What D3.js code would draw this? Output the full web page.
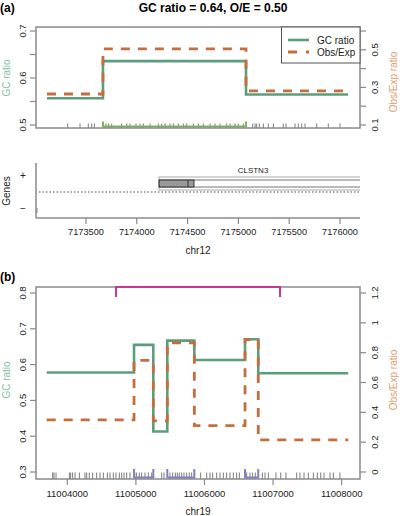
<!DOCTYPE html>
<html><head><meta charset="utf-8">
<script src="https://cdn.jsdelivr.net/npm/d3@7"></script>
<style>body{margin:0;background:#fff}svg{display:block;font-family:"Liberation Sans",Arial,sans-serif}</style>
</head><body>
<svg id="c" width="400" height="516"></svg>
<script>
// ---------- Panel (a) data: chr12 ----------
const aBreaks = [7173116, 7173667, 7175075, 7176079];
const aGC = [0.557, 0.636, 0.565];
const aOE = [0.265, 0.505, 0.282];
const aGCTicks = [0.5, 0.55, 0.6, 0.65, 0.7];
const aGCLabels = [0.5, 0.6, 0.7];
const aOETicks = [0.1, 0.2, 0.3, 0.4, 0.5, 0.6];
const aOELabels = [0.1, 0.3, 0.5];
const aXTicks = [7173500, 7174000, 7174500, 7175000, 7175500, 7176000];
const aIsland = [7173667, 7175075];
const aCpG = [7173320, 7173441, 7173523, 7173556, 7173582, 7173697, 7173723, 7173753, 7173851, 7173901,
  7173933, 7173992, 7174032, 7174064, 7174130, 7174212, 7174245, 7174278, 7174327, 7174360, 7174409,
  7174458, 7174491, 7174557, 7174606, 7174655, 7174721, 7174770, 7174819, 7174885, 7174918, 7174967,
  7175000, 7175049, 7175141, 7175164, 7175180, 7175206, 7175246, 7175295, 7175344, 7175442, 7175469,
  7175557, 7175590, 7175623, 7175656, 7175771, 7175885, 7176000];
const geneName = "CLSTN3";
const geneStart = 7174220, geneEnd = 7190000, exonEnd = 7174563, cdsStart = 7174504;

// ---------- Panel (b) data: chr19 ----------
const bBreaks = [11003700, 11004973, 11005254, 11005458, 11005852, 11006591, 11006784, 11008096];
const bGC = [0.578, 0.655, 0.413, 0.667, 0.613, 0.671, 0.576];
const bOE = [0.35, 0.748, 0.343, 0.865, 0.311, 0.887, 0.215];
const bGCTicks = [0.3, 0.4, 0.5, 0.6, 0.7, 0.8];
const bOETicks = [0, 0.2, 0.4, 0.6, 0.8, 1, 1.2];
const bXTicks = [11004000, 11005000, 11006000, 11007000, 11008000];
const bIslands = [[11004973, 11005254], [11005458, 11005852], [11006591, 11006784]];
const bRegion = [11004710, 11007101];
const bCpG = [11003787, 11003806, 11003836, 11004030, 11004049, 11004078, 11004113, 11004176, 11004258,
  11004283, 11004321, 11004370, 11004428, 11004477, 11004526, 11004584, 11004623, 11004671, 11004710,
  11004759, 11004793, 11004827, 11004866, 11004914, 11004985, 11005011, 11005050, 11005084, 11005133,
  11005181, 11005230, 11005376, 11005410, 11005497, 11005536, 11005575, 11005604, 11005633, 11005667,
  11005701, 11005740, 11005779, 11005813, 11005944, 11006032, 11006080, 11006119, 11006178, 11006226,
  11006275, 11006323, 11006372, 11006420, 11006469, 11006508, 11006615, 11006663, 11006702, 11006741,
  11006843, 11006882, 11006931, 11007042, 11007111, 11007188, 11007344, 11007392, 11007451, 11007514,
  11007587, 11007645, 11007694, 11007742, 11007830, 11007878, 11007975];

// ---------- styling ----------
const GREEN = "#5b9e7b", ORANGE = "#c56d3c", GREEN_T = "#80c09c", ORANGE_T = "#e39c6c";
const FRAME = "#8a8a8a", TXT = "#222";
const svg = d3.select("#c");
const FS = 9.5;

function stepPts(br, vals) {
  const p = vals.map((v, i) => [br[i], v]);
  p.push([br[br.length - 1], vals[vals.length - 1]]);
  return p;
}
function rotLabel(g, x, y, text, opts = {}) {
  g.append("text").attr("transform", `translate(${x},${y}) rotate(-90)`)
    .attr("text-anchor", "middle").attr("dominant-baseline", "central")
    .attr("font-size", opts.fs || FS).attr("fill", opts.fill || TXT).text(text);
}
function yAxis(g, scale, ticks, labels, x, side, fmt) {
  const dir = side === "left" ? -1 : 1;
  ticks.forEach(t => {
    g.append("line").attr("x1", x).attr("x2", x + dir * 6).attr("y1", scale(t)).attr("y2", scale(t))
      .attr("stroke", FRAME).attr("stroke-width", 1.2);
  });
  labels.forEach(t => rotLabel(g, x + dir * 14, scale(t), fmt(t)));
}
function frame(g, x0, y0, x1, y1) {
  g.append("rect").attr("x", x0).attr("y", y0).attr("width", x1 - x0).attr("height", y1 - y0)
    .attr("fill", "none").attr("stroke", FRAME).attr("stroke-width", 1.5);
}

// ================= Panel (a) =================
const L = 36, R = 360;
const xA = d3.scaleLinear().domain([7173008, 7176197]).range([L, R]);
const yGCa = d3.scaleLinear().domain([0.5, 0.7]).range([125, 31]);
const yOEa = d3.scaleLinear().domain([0.1, 0.6]).range([125, 31]);
const ga = svg.append("g");
ga.append("text").attr("x", 0).attr("y", 12).attr("font-weight", "bold").attr("font-size", 12).text("(a)");
ga.append("text").attr("x", 213).attr("y", 12).attr("text-anchor", "middle").attr("font-weight", "bold")
  .attr("font-size", 12).text("GC ratio = 0.64, O/E = 0.50");

// rug
ga.selectAll(".rugA").data(aCpG).join("line")
  .attr("x1", d => xA(d)).attr("x2", d => xA(d)).attr("y1", 123.5).attr("y2", 128)
  .attr("stroke", "#444").attr("stroke-width", 0.7);
// island bracket
ga.append("path").attr("d", `M${xA(aIsland[0])},121.5V126.5H${xA(aIsland[1])}V121.5`)
  .attr("fill", "none").attr("stroke", "#7db356").attr("stroke-width", 2);

const lineGCa = d3.line().x(d => xA(d[0])).y(d => yGCa(d[1])).curve(d3.curveStepAfter);
const lineOEa = d3.line().x(d => xA(d[0])).y(d => yOEa(d[1])).curve(d3.curveStepAfter);
ga.append("path").attr("d", lineGCa(stepPts(aBreaks, aGC))).attr("fill", "none")
  .attr("stroke", GREEN).attr("stroke-width", 2.6);
ga.append("path").attr("d", lineOEa(stepPts(aBreaks, aOE))).attr("fill", "none")
  .attr("stroke", ORANGE).attr("stroke-width", 2.8).attr("stroke-dasharray", "9,8");

frame(ga, L, 27, R, 128);
yAxis(ga, yGCa, aGCTicks, aGCLabels, L, "left", d3.format(".1f"));
yAxis(ga, yOEa, aOETicks, aOELabels, R, "right", d3.format(".1f"));
rotLabel(ga, 6, 78, "GC ratio", { fill: GREEN_T, fs: 10 });
rotLabel(ga, 393, 82, "Obs/Exp ratio", { fill: ORANGE_T, fs: 10 });

// legend
ga.append("rect").attr("x", 281.5).attr("y", 27).attr("width", R - 281.5).attr("height", 36)
  .attr("fill", "#fff").attr("stroke", "#555").attr("stroke-width", 1);
ga.append("line").attr("x1", 288).attr("x2", 309).attr("y1", 40).attr("y2", 40)
  .attr("stroke", GREEN).attr("stroke-width", 2.6);
ga.append("line").attr("x1", 288).attr("x2", 309).attr("y1", 52).attr("y2", 52)
  .attr("stroke", ORANGE).attr("stroke-width", 2.8).attr("stroke-dasharray", "9,9");
ga.append("text").attr("x", 317).attr("y", 43.5).attr("font-size", 10).attr("fill", TXT).text("GC ratio");
ga.append("text").attr("x", 317).attr("y", 55.5).attr("font-size", 10).attr("fill", TXT).text("Obs/Exp");

// ================= Genes panel =================
const gg = svg.append("g");
const gTop = 163, gBot = 218;
const clipG = svg.append("clipPath").attr("id", "clipG");
clipG.append("rect").attr("x", L).attr("y", gTop).attr("width", R - L).attr("height", gBot - gTop);
gg.append("line").attr("x1", L + 3).attr("x2", R).attr("y1", 192).attr("y2", 192)
  .attr("stroke", "#333").attr("stroke-width", 0.9).attr("stroke-dasharray", "1.5,2");
const gc = gg.append("g").attr("clip-path", "url(#clipG)");
gc.append("rect").attr("x", xA(geneStart)).attr("y", 177).attr("width", xA(geneEnd) - xA(geneStart)).attr("height", 13)
  .attr("fill", "#fff").attr("stroke", "#aaa").attr("stroke-width", 1);
gc.append("rect").attr("x", xA(geneStart)).attr("y", 180).attr("width", xA(geneEnd) - xA(geneStart)).attr("height", 7)
  .attr("fill", "#fff").attr("stroke", "#777").attr("stroke-width", 1);
gc.append("rect").attr("x", xA(geneStart)).attr("y", 180).attr("width", xA(exonEnd) - xA(geneStart)).attr("height", 7)
  .attr("fill", "#9a9a9a").attr("stroke", "#333").attr("stroke-width", 1);
gc.append("line").attr("x1", xA(cdsStart)).attr("x2", xA(cdsStart)).attr("y1", 180).attr("y2", 187)
  .attr("stroke", "#333").attr("stroke-width", 1);
gg.append("text").attr("x", 253).attr("y", 173).attr("text-anchor", "middle").attr("font-size", 8).attr("fill", TXT).text(geneName);
gg.append("line").attr("x1", L + 1).attr("x2", L + 1).attr("y1", 208).attr("y2", 213).attr("stroke", "#666").attr("stroke-width", 0.8);
gg.append("line").attr("x1", L).attr("x2", L).attr("y1", gTop).attr("y2", gBot).attr("stroke", FRAME).attr("stroke-width", 1.5);
gg.append("line").attr("x1", L).attr("x2", R).attr("y1", gBot).attr("y2", gBot).attr("stroke", FRAME).attr("stroke-width", 1.5);
gg.append("text").attr("x", 23).attr("y", 179).attr("text-anchor", "middle").attr("font-size", 10).attr("fill", TXT).text("+");
gg.append("text").attr("x", 23).attr("y", 211.5).attr("text-anchor", "middle").attr("font-size", 10).attr("fill", TXT).text("\u2212");
rotLabel(gg, 6, 191, "Genes", { fs: 10 });
aXTicks.forEach(t => {
  gg.append("line").attr("x1", xA(t)).attr("x2", xA(t)).attr("y1", gBot).attr("y2", gBot + 6)
    .attr("stroke", FRAME).attr("stroke-width", 1.2);
  gg.append("text").attr("x", xA(t)).attr("y", 235).attr("text-anchor", "middle").attr("font-size", 9.2)
    .attr("fill", TXT).text(d3.format("d")(t));
});
gg.append("text").attr("x", 198).attr("y", 254).attr("text-anchor", "middle").attr("font-size", 10).attr("fill", TXT).text("chr12");

// ================= Panel (b) =================
const xB = d3.scaleLinear().domain([11003544, 11008267]).range([L, R]);
const yGCb = d3.scaleLinear().domain([0.3, 0.8]).range([472, 293]);
const yOEb = d3.scaleLinear().domain([0, 1.2]).range([472, 293]);
const gb = svg.append("g");
gb.append("text").attr("x", 0).attr("y", 281).attr("font-weight", "bold").attr("font-size", 12).text("(b)");

gb.selectAll(".rugB").data(bCpG).join("line")
  .attr("x1", d => xB(d)).attr("x2", d => xB(d)).attr("y1", 472.5).attr("y2", 479)
  .attr("stroke", "#444").attr("stroke-width", 0.7);
bIslands.forEach(s => {
  gb.append("path").attr("d", `M${xB(s[0])},469V477.5H${xB(s[1])}V469`)
    .attr("fill", "none").attr("stroke", "#8080c4").attr("stroke-width", 2);
});

const lineGCb = d3.line().x(d => xB(d[0])).y(d => yGCb(d[1])).curve(d3.curveStepAfter);
const lineOEb = d3.line().x(d => xB(d[0])).y(d => yOEb(d[1])).curve(d3.curveStepAfter);
gb.append("path").attr("d", lineGCb(stepPts(bBreaks, bGC))).attr("fill", "none")
  .attr("stroke", GREEN).attr("stroke-width", 2.6);
gb.append("path").attr("d", lineOEb(stepPts(bBreaks, bOE))).attr("fill", "none")
  .attr("stroke", ORANGE).attr("stroke-width", 2.8).attr("stroke-dasharray", "9,8");

frame(gb, L, 287, R, 479);
gb.append("path").attr("d", `M${xB(bRegion[0])},297V287H${xB(bRegion[1])}V297`)
  .attr("fill", "none").attr("stroke", "#cc3594").attr("stroke-width", 2);
yAxis(gb, yGCb, bGCTicks, bGCTicks, L, "left", d3.format(".1f"));
yAxis(gb, yOEb, bOETicks, bOETicks, R, "right", d => d3.format("")(+d.toFixed(1)));
rotLabel(gb, 6, 380, "GC ratio", { fill: GREEN_T, fs: 10 });
rotLabel(gb, 393, 380, "Obs/Exp ratio", { fill: ORANGE_T, fs: 10 });
bXTicks.forEach(t => {
  gb.append("line").attr("x1", xB(t)).attr("x2", xB(t)).attr("y1", 479).attr("y2", 485)
    .attr("stroke", FRAME).attr("stroke-width", 1.2);
  gb.append("text").attr("x", xB(t)).attr("y", 497).attr("text-anchor", "middle").attr("font-size", 9.5)
    .attr("fill", TXT).text(d3.format("d")(t));
});
gb.append("text").attr("x", 198).attr("y", 515).attr("text-anchor", "middle").attr("font-size", 10).attr("fill", TXT).text("chr19");
</script>
</body></html>
